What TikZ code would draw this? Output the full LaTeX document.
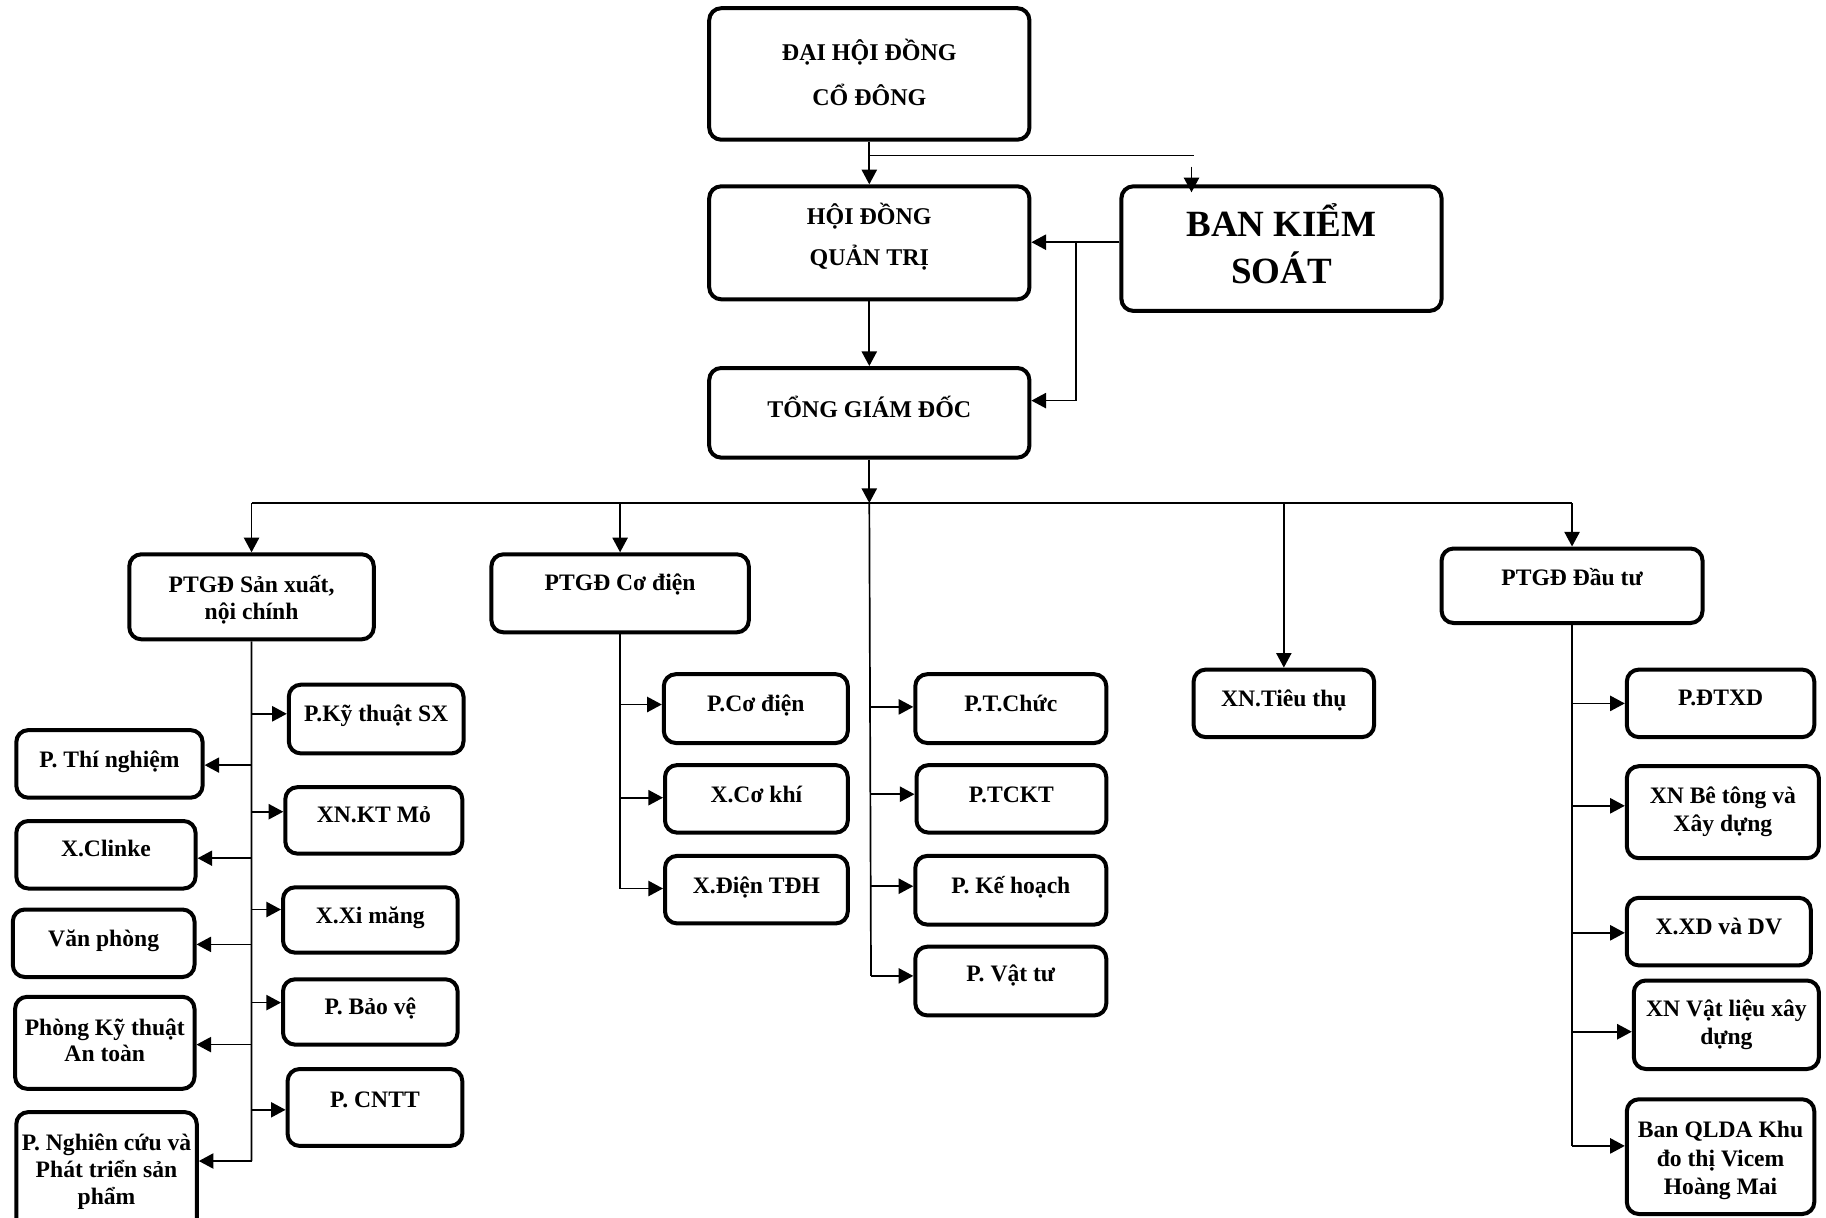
\documentclass[tikz,border=0pt]{standalone}
\usepackage{fontspec}
\setmainfont{Liberation Serif}
\usetikzlibrary{arrows.meta,fit,calc}
\tikzset{
  bx/.style={draw, line width=2pt, rounded corners=6pt, inner sep=0pt},
  tx/.style={font=\bfseries\fontsize{11.8}{#1}\selectfont, align=center, inner sep=0pt, anchor=base},
  tx/.default=13.8,
  ln/.style={line width=0.85pt},
  ar/.style={ln, -{Triangle[length=7.3pt,width=7.6pt]}},
}
\newcommand\mybox[5]{\node[bx, fit={(#2,#3) (#4,#5)}] (#1) {};}
\begin{document}
\begin{tikzpicture}[x=0.5pt,y=-0.5pt]
\useasboundingbox (0,0) rectangle (1826,1217);
\clip (0,0) rectangle (1826,1217);
% top level
\mybox{dh}{709.2}{8.2}{1029.4}{139.7}
\mybox{hd}{709.2}{186.3}{1029.4}{299.3}
\mybox{bks}{1121.4}{186.3}{1441.6}{310.9}
\mybox{tgd}{709.2}{368}{1029.4}{457.6}
\node[tx, font=\bfseries\fontsize{12}{22.7}\selectfont] (dht) at (dh.center |- 0,105.8) {ĐẠI HỘI ĐỒNG\\CỔ ĐÔNG};
\node[tx, font=\bfseries\fontsize{12}{20.4}\selectfont] (hdt) at (hd.center |- 0,265.4) {HỘI ĐỒNG\\QUẢN TRỊ};
\node[tx, font=\bfseries\fontsize{18.5}{23.3}\selectfont] (bkst) at (bks.center |- 0,283.3) {BAN KIỂM\\SOÁT};
\node[tx, font=\bfseries\fontsize{12}{20}\selectfont] (tgdt) at (tgd.center |- 0,417.9) {TỔNG GIÁM ĐỐC};
% level 2
\mybox{sx}{129.3}{554.3}{373.8}{639.3}
\mybox{cd}{491.4}{554.3}{748.8}{632.3}
\mybox{dt}{1441.6}{548.5}{1702.5}{623}
\mybox{tt}{1193.6}{669.6}{1374.1}{737.1}
\node[tx=13.4] (sxt) at (sx.center |- 0,619.4) {PTGĐ Sản xuất,\\nội chính};
\node[tx] (cdt) at (cd.center |- 0,590.3) {PTGĐ Cơ điện};
\node[tx] (dtt) at (dt.center |- 0,585.6) {PTGĐ Đầu tư};
\node[tx] (ttt) at (tt.center |- 0,706.7) {XN.Tiêu thụ};
% SX right
\mybox{ktsx}{288.8}{684.7}{463.5}{753.4}
\mybox{ktmo}{285.3}{787.2}{462.3}{853.6}
\mybox{xm}{283}{887.3}{457.6}{952.6}
\mybox{bv}{283}{979.3}{457.6}{1044.6}
\mybox{cntt}{287.6}{1069}{462.3}{1145.9}
\node[tx] (ktsxt) at (ktsx.center |- 0,721.8) {P.Kỹ thuật SX};
\node[tx] (ktmot) at (ktmo.center |- 0,822) {XN.KT Mỏ};
\node[tx] (xmt) at (xm.center |- 0,923.3) {X.Xi măng};
\node[tx] (bvt) at (bv.center |- 0,1014.1) {P. Bảo vệ};
\node[tx] (cnttt) at (cntt.center |- 0,1107.3) {P. CNTT};
% SX left
\mybox{tn}{16.3}{730.1}{202.6}{797.7}
\mybox{cl}{16.3}{821}{195.6}{888.5}
\mybox{vp}{12.8}{909.5}{194.5}{977}
\mybox{at}{15.1}{996.8}{194.5}{1088.8}
\mybox{nc}{16.3}{1112.1}{196.8}{1232}
\node[tx] (tnt) at (tn.center |- 0,767.3) {P. Thí nghiệm};
\node[tx] (clt) at (cl.center |- 0,856.9) {X.Clinke};
\node[tx] (vpt) at (vp.center |- 0,946.6) {Văn phòng};
\node[tx=13.4] (att) at (at.center |- 0,1061.9) {Phòng Kỹ thuật\\An toàn};
\node[tx=13.4] (nct) at (nc.center |- 0,1204) {P. Nghiên cứu và\\Phát triển sản\\phẩm};
% CD column
\mybox{pcd}{663.8}{674.2}{847.8}{743}
\mybox{xck}{665}{765.1}{847.8}{832.6}
\mybox{xdt}{665}{855.9}{847.8}{923.4}
\node[tx] (pcdt) at (pcd.center |- 0,711.4) {P.Cơ điện};
\node[tx] (xckt) at (xck.center |- 0,802.2) {X.Cơ khí};
\node[tx] (xdtt) at (xdt.center |- 0,893) {X.Điện TĐH};
% center column
\mybox{ptc}{915.3}{674.2}{1106.3}{743}
\mybox{tckt}{916.5}{765.1}{1106.3}{832.6}
\mybox{kh}{915.3}{855.9}{1106.3}{924.6}
\mybox{vt}{915.3}{946.7}{1106.3}{1015.4}
\node[tx] (ptct) at (ptc.center |- 0,711.4) {P.T.Chức};
\node[tx] (tcktt) at (tckt.center |- 0,802.2) {P.TCKT};
\node[tx] (kht) at (kh.center |- 0,893) {P. Kế hoạch};
\node[tx] (vtt) at (vt.center |- 0,981.5) {P. Vật tư};
% DT column
\mybox{dtxd}{1626.8}{669.6}{1814.3}{737.1}
\mybox{bt}{1626.8}{766.2}{1818.9}{858.2}
\mybox{xxd}{1626.8}{897.8}{1810.8}{965.4}
\mybox{vl}{1633.8}{980.5}{1818.9}{1069}
\mybox{ql}{1626.8}{1099.3}{1814.3}{1214}
\node[tx] (dtxdt) at (dtxd.center |- 0,705.5) {P.ĐTXD};
\node[tx=14] (btt) at (bt.center |- 0,831.4) {XN Bê tông và\\Xây dựng};
\node[tx] (xxdt) at (xxd.center |- 0,934.9) {X.XD và DV};
\node[tx=14] (vlt) at (vl.center |- 0,1044.5) {XN Vật liệu xây\\dựng};
\node[tx=14.3] (qlt) at (ql.center |- 0,1194.8) {Ban QLDA Khu\\đo thị Vicem\\Hoàng Mai};
% top connectors
\draw[ar] (dh.south) -- (hd.north);
\coordinate (brk) at (1193.6,155.5);
\draw[ln] (dh.south |- brk) -- (brk);
\coordinate (bksin) at (1191.5,166.5);
\draw[ar] (bksin) -- ([yshift=-4pt]bksin |- bks.north);
\draw[ar] (bks.west |- 0,242.2) -- (hd.east |- 0,242.2);
\coordinate (bkv) at (1076,242.2);
\draw[ar] (bkv) -- (bkv |- 0,400.6) -- (tgd.east |- 0,400.6);
\draw[ar] (hd.south) -- (tgd.north);
\coordinate (bus) at (870,503);
\draw[ar] (tgd.south) -- (tgd.south |- bus);
\draw[ln] (sx.north |- bus) -- (dt.north |- bus);
\draw[ar] (sx.north |- bus) -- (sx.north);
\draw[ar] (cd.north |- bus) -- (cd.north);
\draw[ar] (dt.north |- bus) -- (dt.north);
\draw[ar] (tt.north |- bus) -- (tt.north);
% center trunk
\coordinate (ctb) at (871,975.9);
\draw[ln] (tgd.south |- bus) -- (ctb);
\foreach \b/\y in {ptc/706.9, tckt/794.2, kh/886.2, vt/975.9}
  \draw[ar] (ctb |- 0,\y) -- (\b.west |- 0,\y);
% SX trunk
\coordinate (sxb) at (251.5,1161);
\draw[ln] (sx.south) -- (sxb);
\foreach \b/\y in {ktsx/713.8, ktmo/811.7, xm/909.5, bv/1002.6, cntt/1109.8}
  \draw[ar] (sxb |- 0,\y) -- (\b.west |- 0,\y);
\foreach \b/\y in {tn/765.1, cl/858.2, vp/944.4, at/1044.6, nc/1161}
  \draw[ar] (sxb |- 0,\y) -- (\b.east |- 0,\y);
% CD trunk
\coordinate (cdb) at (619.5,888.5);
\draw[ln] (cd.south) -- (cd.south |- cdb);
\foreach \b/\y in {pcd/704.5, xck/797.7, xdt/888.5}
  \draw[ar] (cd.south |- 0,\y) -- (\b.west |- 0,\y);
% DT trunk
\coordinate (dtb) at (1574.4,1145.9);
\draw[ln] (dt.south) -- (dt.south |- dtb);
\foreach \b/\y in {dtxd/703.4, bt/805.8, xxd/932.8, vl/1031.7, ql/1145.9}
  \draw[ar] (dt.south |- 0,\y) -- (\b.west |- 0,\y);
\end{tikzpicture}
\end{document}
